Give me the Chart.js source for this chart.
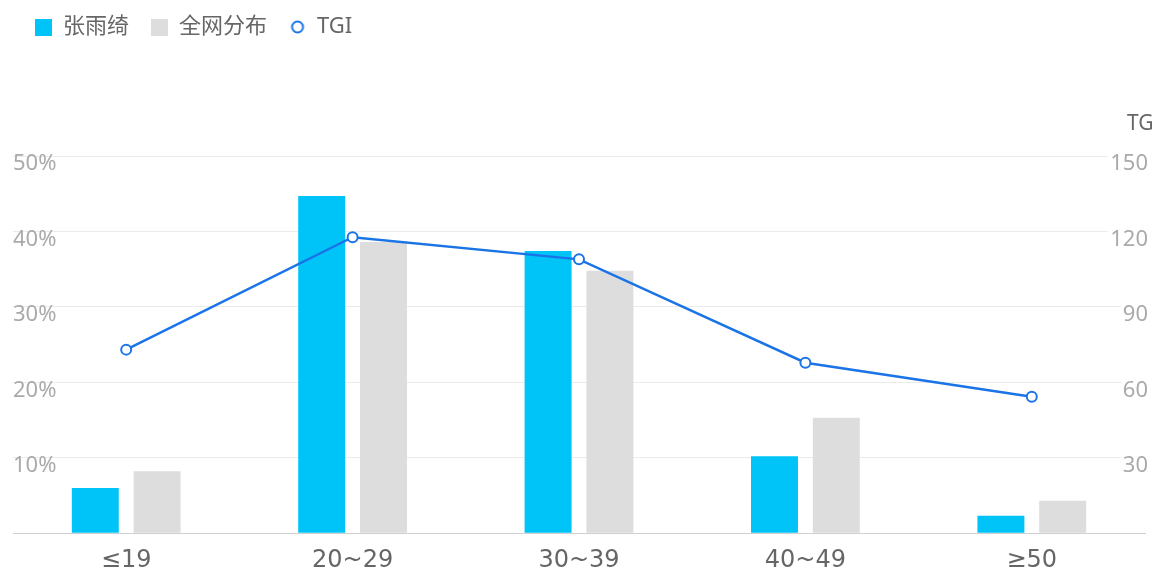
<!DOCTYPE html>
<html>
<head>
<meta charset="utf-8">
<script src="https://cdn.jsdelivr.net/npm/chart.js@4.4.0/dist/chart.umd.min.js"></script>
<style>
  html, body { margin: 0; padding: 0; background: #fff; }
  #wrap { width: 1152px; height: 574px; }
</style>
</head>
<body>
<div id="wrap"><canvas id="age-chart" width="1152" height="574"></canvas></div>
<script>
// Age groups
const categories = ['≤19', '20~29', '30~39', '40~49', '≥50'];
// Share of audience (%)
const celebShare = [6.0, 44.7, 37.4, 10.2, 2.3];
const networkShare = [8.2, 38.6, 34.8, 15.3, 4.3];
// TGI index
const tgiValues = [73, 117.7, 108.9, 67.8, 54.3];

const FONT = '"Noto Sans", "Noto Sans CJK SC", sans-serif';
Chart.defaults.font.family = FONT;

const BLUE = '#00c4f8';
const GREY = '#dddddd';
const LINE = '#1a74e6';

// small legend markers
function squareIcon(color) {
  const c = document.createElement('canvas');
  c.width = 17; c.height = 17;
  const g = c.getContext('2d');
  g.fillStyle = color;
  g.fillRect(0, 0, 17, 17);
  return c;
}
function ringIcon(color) {
  const c = document.createElement('canvas');
  c.width = 16; c.height = 16;
  const g = c.getContext('2d');
  g.strokeStyle = color;
  g.lineWidth = 2;
  g.beginPath();
  g.arc(8, 8, 5.5, 0, Math.PI * 2);
  g.stroke();
  return c;
}
const legendIcons = {
  '张雨绮': squareIcon(BLUE),
  '全网分布': squareIcon(GREY),
  'TGI': ringIcon(LINE)
};

// push the plot area down below the legend
const legendSpacer = {
  id: 'legendSpacer',
  beforeInit(chart) {
    const fit = chart.legend.fit;
    chart.legend.fit = function() {
      fit.bind(chart.legend)();
      this.height += 108;
    };
  }
};

// right axis caption, partly off the edge
const tgiCaption = {
  id: 'tgiCaption',
  afterDraw(chart) {
    const ctx = chart.ctx;
    const area = chart.chartArea;
    ctx.save();
    ctx.font = '21px ' + FONT;
    ctx.fillStyle = '#666';
    ctx.textAlign = 'left';
    ctx.textBaseline = 'middle';
    ctx.fillText('TGI', 1127, area.top - 32);
    ctx.restore();
  }
};

new Chart(document.getElementById('age-chart'), {
  type: 'bar',
  data: {
    labels: categories,
    datasets: [{
      type: 'line',
      label: 'TGI',
      data: tgiValues,
      yAxisID: 'y1',
      borderColor: LINE,
      backgroundColor: '#ffffff',
      borderWidth: 2.5,
      pointRadius: 5,
      pointBorderWidth: 2,
      tension: 0,
      order: 0
    }, {
      label: '张雨绮',
      data: celebShare,
      backgroundColor: BLUE,
      order: 1
    }, {
      label: '全网分布',
      data: networkShare,
      backgroundColor: GREY,
      order: 2
    }]
  },
  options: {
    responsive: false,
    animation: false,
    layout: { padding: { left: 13, right: 0, top: -6, bottom: -6 } },
    datasets: {
      bar: { categoryPercentage: 0.546, barPercentage: 0.76 }
    },
    plugins: {
      legend: {
        position: 'top',
        align: 'start',
        labels: {
          usePointStyle: true,
          pointStyleWidth: 17,
          padding: 22,
          color: '#666',
          font: { size: 22 },
          generateLabels: chart => {
            const items = Chart.defaults.plugins.legend.labels.generateLabels(chart);
            items.forEach(it => { it.pointStyle = legendIcons[it.text]; });
            const rank = ['张雨绮', '全网分布', 'TGI'];
            return items.sort((a, b) => rank.indexOf(a.text) - rank.indexOf(b.text));
          }
        }
      },
      tooltip: { enabled: false }
    },
    scales: {
      x: {
        grid: { display: false },
        border: { display: true, color: '#d0d0d0', width: 1 },
        ticks: {
          color: '#666',
          font: { family: '"DejaVu Sans", sans-serif', size: 24 },
          padding: 5
        }
      },
      y: {
        position: 'left',
        min: 0,
        max: 50,
        border: { display: false },
        grid: { color: '#ebebeb', drawTicks: false },
        ticks: {
          stepSize: 10,
          mirror: true,
          padding: 0,
          labelOffset: 8,
          color: '#aaa',
          font: { size: 22 },
          callback: v => (v === 0 ? '' : v + '%')
        }
      },
      y1: {
        position: 'right',
        min: 0,
        max: 150,
        border: { display: false },
        grid: { display: false, drawTicks: false },
        ticks: {
          stepSize: 30,
          mirror: true,
          padding: 3,
          labelOffset: 8,
          color: '#aaa',
          font: { size: 22 },
          showLabelBackdrop: true,
          backdropColor: '#ffffff',
          backdropPadding: 2,
          callback: v => (v === 0 ? '' : v)
        }
      }
    }
  },
  plugins: [legendSpacer, tgiCaption]
});
</script>
</body>
</html>
